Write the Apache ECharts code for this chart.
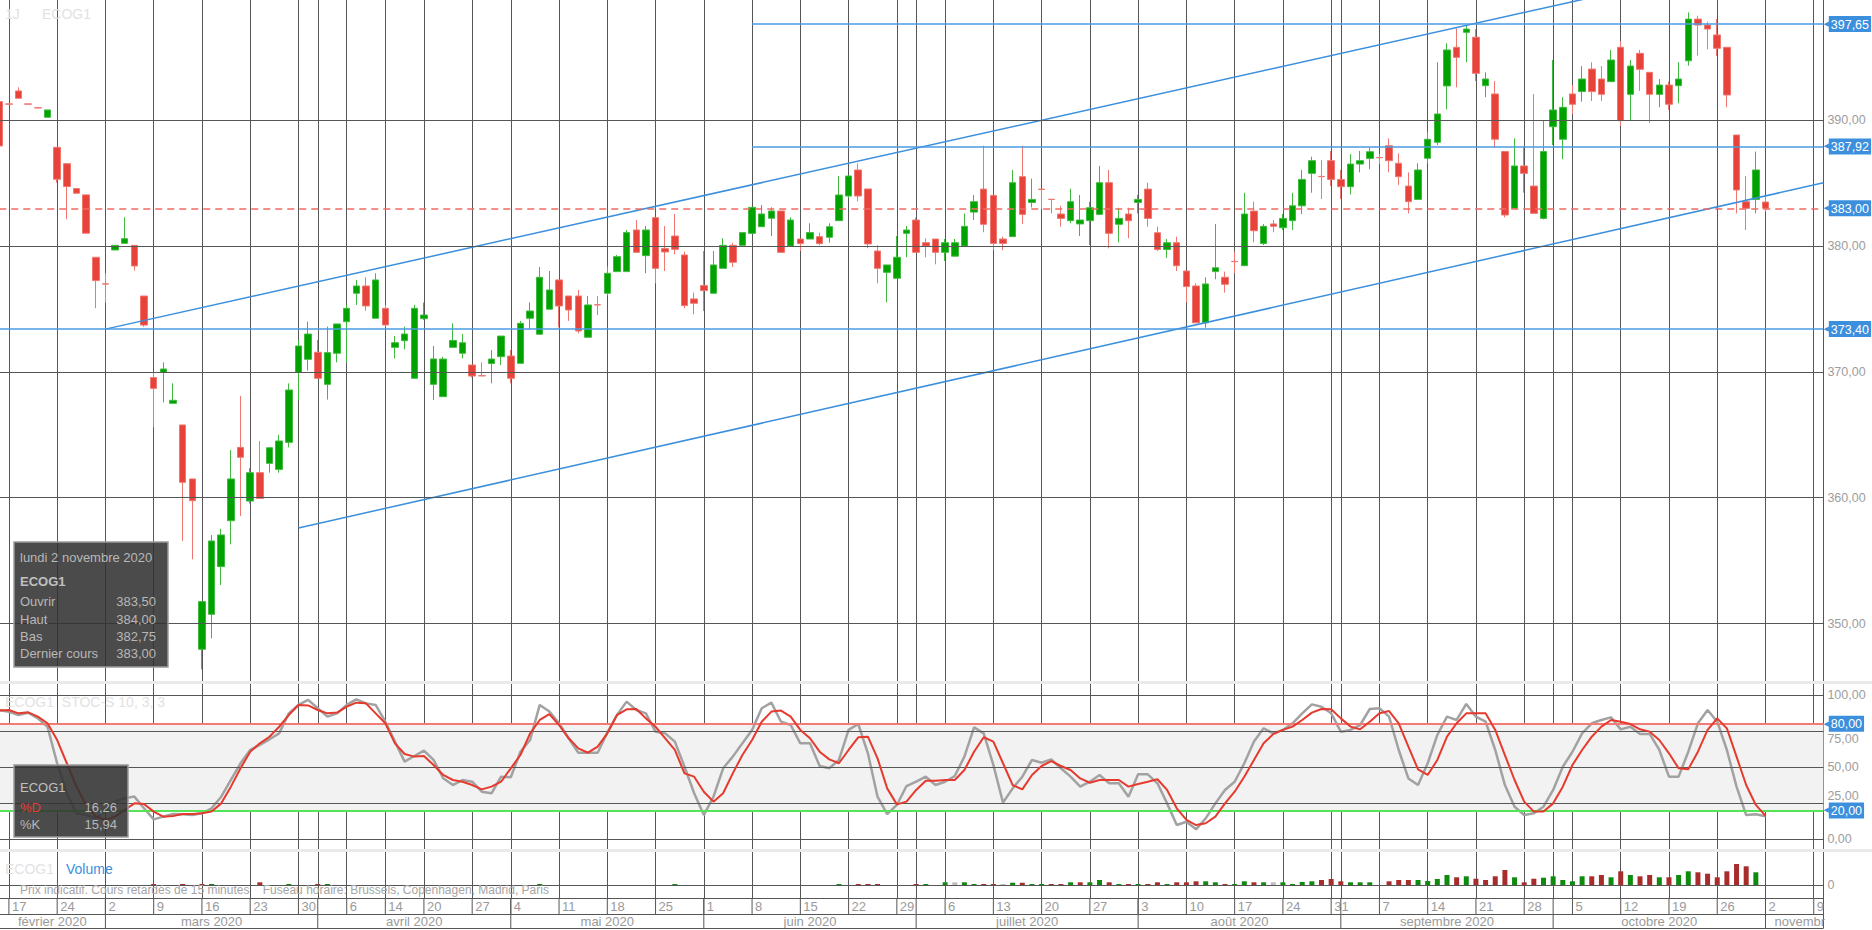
<!DOCTYPE html>
<html><head><meta charset="utf-8">
<script src="https://cdn.jsdelivr.net/npm/echarts@6/dist/echarts.min.js"></script>
<style>html,body{margin:0;padding:0;background:#fff}#c{width:1872px;height:930px}</style>
</head><body><div id="c"></div><script>
const dates = [
'02-14','02-17','02-18','02-19','02-20','02-21','02-24','02-25','02-26','02-27','02-28',
'03-02','03-03','03-04','03-05','03-06','03-09','03-10','03-11','03-12','03-13',
'03-16','03-17','03-18','03-19','03-20','03-23','03-24','03-25','03-26','03-27','03-30','03-31',
'04-01','04-02','04-03','04-06','04-07','04-08','04-09','04-14','04-15','04-16','04-17',
'04-20','04-21','04-22','04-23','04-24','04-27','04-28','04-29','04-30',
'05-04','05-05','05-06','05-07','05-08','05-11','05-12','05-13','05-14','05-15',
'05-18','05-19','05-20','05-21','05-22','05-25','05-26','05-27','05-28','05-29',
'06-01','06-02','06-03','06-04','06-05','06-08','06-09','06-10','06-11','06-12',
'06-15','06-16','06-17','06-18','06-19','06-22','06-23','06-24','06-25','06-26','06-29','06-30',
'07-01','07-02','07-03','07-06','07-07','07-08','07-09','07-10','07-13','07-14','07-15','07-16','07-17',
'07-20','07-21','07-22','07-23','07-24','07-27','07-28','07-29','07-30','07-31',
'08-03','08-04','08-05','08-06','08-07','08-10','08-11','08-12','08-13','08-14',
'08-17','08-18','08-19','08-20','08-21','08-24','08-25','08-26','08-27','08-28','08-31',
'09-01','09-02','09-03','09-04','09-07','09-08','09-09','09-10','09-11','09-14','09-15','09-16','09-17','09-18',
'09-21','09-22','09-23','09-24','09-25','09-28','09-29','09-30',
'10-01','10-02','10-05','10-06','10-07','10-08','10-09','10-12','10-13','10-14','10-15','10-16',
'10-19','10-20','10-21','10-22','10-23','10-26','10-27','10-28','10-29','10-30',
'11-02','11-03','11-04','11-05','11-06','11-09','11-10'];

const opens = [
391.48,391.30,392.33,391.30,391.00,390.24,387.85,386.55,384.57,384.07,
379.11,377.00,379.69,380.22,380.06,376.03,369.55,369.96,367.50,365.78,
361.49,347.95,350.73,354.52,358.17,364.00,359.73,361.99,362.73,362.25,
364.40,369.96,371.00,371.56,369.01,371.48,373.99,376.25,376.83,374.26,
375.05,371.95,372.48,369.49,374.23,369.01,368.03,371.95,371.48,370.55,
369.70,370.66,371.21,371.26,370.68,374.26,372.99,374.98,377.31,376.03,
376.03,372.75,375.34,376.25,377.97,377.97,381.28,379.24,382.26,379.80,
380.80,379.29,375.80,376.86,376.25,378.23,380.06,380.06,381.01,381.54,
382.21,382.79,380.00,380.56,380.56,380.75,380.70,382.02,383.98,386.05,
384.54,379.61,377.91,377.44,381.01,382.07,380.27,380.56,379.50,379.20,
380.00,382.70,384.53,384.03,380.56,380.75,385.52,383.47,384.53,383.72,
382.55,382.02,381.76,382.02,382.52,385.04,381.73,382.55,383.47,384.53,
381.06,379.73,380.27,378.02,376.83,373.90,377.97,377.52,378.78,378.44,
382.78,380.21,381.76,381.46,382.02,383.20,385.78,385.54,386.79,385.30,
384.72,386.52,386.97,387.04,387.98,386.58,384.77,383.71,386.98,388.25,
392.73,395.80,396.99,396.60,392.75,392.09,387.51,383.00,386.37,384.77,
382.20,389.49,388.49,392.09,392.28,394.07,393.28,393.07,395.80,392.06,
395.32,393.81,392.06,392.80,392.75,394.73,398.04,397.57,396.78,395.80,
388.83,383.53,383.71,383.50];
const highs = [
391.60,391.30,392.62,391.30,391.00,390.82,387.85,386.55,384.57,384.07,
379.11,377.84,380.06,382.29,380.06,376.03,370.02,370.76,369.09,365.78,
361.49,351.74,357.04,357.52,363.79,368.09,362.34,364.51,363.97,364.99,
369.09,372.54,374.00,372.54,373.60,373.81,375.32,377.31,377.52,377.84,
375.32,372.85,373.60,375.32,375.51,372.06,371.20,373.86,373.01,370.55,
370.76,371.74,372.85,371.74,374.05,375.53,378.34,378.02,377.31,376.03,
376.51,376.03,376.03,378.37,379.29,381.28,382.07,381.60,382.26,381.60,
382.55,379.56,376.30,379.61,379.61,380.62,380.27,381.07,383.08,383.27,
383.08,382.79,382.28,380.56,381.81,381.07,381.81,385.57,385.57,386.58,
384.54,380.06,378.50,380.80,381.60,382.26,380.62,380.56,380.56,380.56,
382.58,384.06,387.98,384.03,380.75,386.05,387.98,385.36,384.53,383.72,
383.20,384.56,384.06,383.53,386.37,386.05,383.05,383.05,384.06,385.04,
381.55,380.56,380.75,378.02,377.04,377.52,381.76,377.97,379.56,384.24,
383.53,381.76,382.07,382.55,384.24,386.05,387.10,386.84,387.56,386.05,
387.31,387.56,387.82,387.31,388.56,387.37,385.86,386.58,389.09,394.61,
396.12,397.31,397.57,397.25,393.81,393.12,387.51,388.56,387.90,392.09,
389.97,394.79,391.83,392.80,394.31,394.61,394.31,395.59,396.30,394.79,
395.59,393.81,393.28,393.07,394.61,398.57,398.31,397.84,398.04,395.80,
388.83,385.57,387.51,384.00];
const lows = [
387.90,391.28,391.75,391.28,390.98,390.24,385.04,382.13,384.20,381.02,
375.06,375.50,379.69,380.22,378.05,373.59,365.59,367.58,367.50,356.56,
355.10,346.36,348.82,353.06,356.29,358.55,359.54,359.94,361.99,361.99,
364.00,367.77,370.10,369.49,367.80,370.76,370.74,375.32,374.87,374.26,
373.60,371.07,371.80,369.49,374.13,367.77,368.03,371.95,371.07,369.56,
369.68,369.09,370.55,369.09,370.68,373.38,372.99,374.98,373.54,374.05,
373.06,372.75,374.52,376.06,377.97,377.97,379.50,377.84,377.04,378.02,
379.34,375.06,374.58,374.84,376.25,378.23,378.34,380.06,381.01,381.54,
380.80,379.50,380.00,379.61,380.56,380.08,380.27,382.02,383.80,383.56,
379.83,377.04,375.53,377.44,379.11,379.50,379.11,378.55,378.82,379.20,
380.00,382.07,381.10,379.68,379.68,380.75,381.76,383.07,382.95,382.60,
381.55,381.81,380.80,380.08,382.52,379.82,380.30,380.62,382.60,381.55,
379.60,379.07,378.02,375.50,373.90,373.50,377.36,376.30,377.84,378.44,
380.30,380.08,381.10,381.28,381.28,382.55,384.24,383.74,384.77,383.74,
384.10,385.86,386.10,386.52,385.86,384.86,382.60,383.71,386.58,388.03,
390.87,392.62,394.61,393.12,391.83,387.85,382.28,383.00,384.25,382.60,
382.12,388.03,386.90,390.50,391.48,391.53,391.53,393.07,389.55,390.00,
392.33,389.80,391.03,390.82,391.35,394.34,395.14,395.64,395.11,391.03,
382.60,381.28,382.60,382.75];
const closes = [
387.96,391.28,391.75,391.28,390.98,390.82,385.31,384.73,384.20,381.02,
377.26,376.98,380.06,380.59,378.42,373.72,368.69,370.23,367.74,361.22,
359.76,351.74,356.56,357.04,361.49,363.21,361.99,359.94,363.97,364.51,
368.56,372.06,373.01,369.49,371.53,373.81,375.05,376.83,375.24,377.31,
373.73,372.32,373.01,375.05,374.52,371.03,371.02,372.50,372.32,369.67,
369.68,371.02,372.85,369.49,373.86,374.84,377.52,376.51,375.24,374.92,
373.25,375.32,375.32,377.84,379.16,381.07,379.50,381.28,378.23,379.53,
379.74,375.27,375.45,376.46,378.50,380.06,378.71,381.07,383.08,382.55,
382.79,379.50,382.07,380.20,381.07,380.20,381.54,384.06,385.57,383.98,
380.17,378.23,378.50,379.11,381.28,379.50,380.00,379.50,380.27,380.27,
381.57,383.53,381.73,380.21,380.21,385.04,382.52,383.71,384.50,383.70,
382.20,383.53,382.07,383.05,385.04,381.01,382.20,382.02,383.71,382.20,
379.73,380.27,378.44,376.78,373.90,376.99,378.28,376.96,378.76,382.55,
381.22,381.57,381.57,382.20,383.20,385.30,386.79,385.52,385.30,384.72,
386.52,386.79,387.50,387.02,386.79,385.52,383.53,386.05,388.49,390.50,
395.59,395.00,397.25,393.73,393.28,388.49,382.47,386.37,385.78,382.60,
387.51,390.82,391.03,391.27,393.28,392.28,392.06,394.79,389.97,394.31,
394.05,392.06,392.80,391.27,393.28,398.04,397.57,397.25,395.72,392.01,
384.46,383.00,386.05,383.00];
const volumes = [
0,0,0,0,0,0,0,0,0,0,
0,0,0,0,0,0,100,0,0,100,
0,100,100,0,0,0,0,270,0,0,
100,0,0,100,100,0,0,0,0,0,
0,0,0,0,0,0,0,0,0,0,
0,0,0,0,0,0,100,0,0,0,
0,0,0,0,0,0,0,0,0,0,
100,0,0,0,0,0,0,0,0,0,
0,0,0,0,0,0,0,100,0,100,
100,100,0,0,0,100,100,0,270,270,
270,100,100,100,100,230,230,100,100,100,
100,270,270,270,500,270,100,100,100,100,
270,100,270,270,370,370,270,100,100,370,
270,270,270,270,100,300,370,500,600,370,
270,270,270,0,370,500,500,500,400,600,
1000,770,870,630,500,870,1500,770,270,630,
730,870,500,370,870,870,1000,770,1370,1000,
870,1000,770,770,1000,1370,1270,1130,770,1370,
2100,1870,1270,0];
const stochK = [
89.6,88.4,86.1,87.7,83.8,78.0,52.6,31.9,18.0,16.9,
14.5,20.3,26.1,28.4,29.6,21.5,13.8,15.7,17.5,17.3,
16.8,18.0,21.5,29.5,41.1,52.7,61.9,65.4,69.3,73.4,
87.3,93.1,96.6,90.8,85.0,87.3,93.1,97.0,94.2,93.1,
81.5,67.7,53.8,57.7,61.4,55.0,42.3,37.6,41.1,39.9,
33.0,31.9,43.4,43.0,60.7,68.8,93.1,88.5,80.4,70.0,
60.0,60.0,60.0,73.9,86.1,95.4,89.6,87.3,74.6,73.4,
67.7,50.3,31.9,16.8,29.5,49.2,57.3,66.5,75.8,90.8,
94.7,81.5,79.2,66.5,66.5,50.8,49.2,55.0,75.8,79.9,
59.6,29.5,17.5,23.8,36.9,39.9,43.4,37.6,39.9,43.9,
57.3,77.6,73.4,51.5,25.4,35.3,43.4,55.0,53.1,55.4,
49.2,43.4,36.5,39.9,44.6,38.8,38.8,29.5,45.0,45.0,
38.8,24.9,9.9,12.2,6.9,14.5,24.9,34.2,39.9,52.7,
67.7,76.9,73.4,75.8,80.4,87.3,93.5,91.9,87.3,74.6,
75.8,79.2,90.3,90.8,85.0,61.9,42.2,37.6,52.7,72.3,
85.0,82.7,93.8,85.0,81.5,61.9,37.6,22.6,16.8,18.0,
22.6,34.2,50.3,60.7,73.4,80.4,82.7,84.5,76.2,78.0,
73.0,73.0,61.9,43.4,43.4,60.7,80.4,89.6,81.5,61.9,
36.5,16.8,17.3,15.94];
const stochD = [
89.2,89.6,87.3,88.0,85.0,80.4,68.8,52.7,36.5,23.8,
15.7,13.4,15.7,20.3,24.9,24.5,19.2,15.7,16.1,17.5,
17.5,18.0,19.2,24.9,36.5,49.2,60.7,66.5,71.1,78.0,
86.1,93.1,92.8,89.6,87.3,87.8,91.9,94.7,94.2,87.3,
80.4,66.5,59.1,57.3,57.7,51.5,44.6,41.1,39.9,37.6,
34.6,36.5,39.9,49.2,58.4,73.4,82.7,86.8,79.2,70.0,
63.0,60.0,64.2,73.4,86.1,90.1,90.3,83.8,78.0,70.0,
61.9,45.7,43.4,33.0,26.1,31.9,45.7,58.4,68.8,81.5,
88.5,89.2,85.0,75.8,70.0,60.7,55.4,52.7,61.9,70.7,
71.1,56.1,35.3,24.2,26.1,34.2,40.6,40.6,41.1,41.1,
48.0,60.7,70.7,67.7,52.7,37.6,34.6,44.6,50.8,54.2,
50.8,48.0,42.2,39.2,41.1,41.1,41.1,36.5,38.3,39.9,
41.6,34.2,21.5,13.4,9.9,11.1,15.7,24.9,33.0,43.4,
54.9,66.5,72.9,75.8,78.1,82.7,87.8,90.3,90.1,83.8,
78.1,76.2,81.5,87.3,88.9,80.4,64.2,48.5,44.6,55.0,
71.1,80.4,87.3,87.3,87.3,75.8,58.4,41.1,26.1,19.2,
19.2,24.9,36.5,51.5,61.9,71.1,78.1,82.7,81.5,79.9,
76.2,74.6,68.8,59.6,49.2,48.5,60.7,75.8,83.8,76.9,
57.3,37.6,23.8,16.26];

const priceTicks = [350, 360, 370, 380, 390];
const stochTicks = [0, 25, 50, 75, 100];
const stochLevels = [80, 20];
const volumeTicks = [0];
const lastPrice = 383.00;
const levelLines = [
  {from: '06-08', to: '11-10', value: 397.65},
  {from: '06-08', to: '11-10', value: 387.92},
  {from: '02-14', to: '11-10', value: 373.40}
];
const channelUpper = [['03-02', 373.40], ['10-23', 401.82]];
const channelLower = [['03-30', 357.59], ['11-10', 385.03]];
const weekTicks = ['02-17','02-24','03-02','03-09','03-16','03-23','03-30','04-06','04-14','04-20','04-27',
 '05-04','05-11','05-18','05-25','06-01','06-08','06-15','06-22','06-29','07-06','07-13','07-20','07-27',
 '08-03','08-10','08-17','08-24','08-31','09-07','09-14','09-21','09-28','10-05','10-12','10-19','10-26','11-02','11-09'];
const weekLabels = ['17','24','2','9','16','23','30','6','14','20','27','4','11','18','25','1','8','15','22','29',
 '6','13','20','27','3','10','17','24','31','7','14','21','28','5','12','19','26','2','9'];
const monthStarts = ['03-02','04-01','05-04','06-01','07-01','08-03','09-01','10-01','11-02'];
const monthLabels = ['février 2020','mars 2020','avril 2020','mai 2020','juin 2020','juillet 2020','août 2020','septembre 2020','octobre 2020','novembre 2020'];

const FONT = '"Liberation Sans", Arial, Helvetica, sans-serif';
const GRID = '#565656';
const BLUE = '#3b8fdc';
const fmt = v => Number(v).toFixed(2).replace('.', ',');
const tickSet = new Set([...weekTicks, ...monthStarts]);
const L = -0.75, R = 48.6;

const grayLabel = {show: true, position: 'end', distance: 4, color: '#9d9d9d', fontSize: 12.5, fontFamily: FONT};
const blueRich = {
  a: {color: BLUE, fontSize: 7, fontFamily: '"DejaVu Sans", sans-serif', padding: [0, 0, 0, 0]},
  b: {color: '#fff', backgroundColor: BLUE, padding: [2, 2, 1, 2], fontSize: 12.5, fontFamily: FONT}
};
const blueLabel = v => ({show: true, position: 'end', distance: 0, formatter: '{a|◀}{b|' + fmt(v) + '}', rich: blueRich});

function host(xi, yi, z, markLine, markArea) {
  const s = {type: 'line', xAxisIndex: xi, yAxisIndex: yi, data: [], z: z, silent: true, symbol: 'none'};
  if (markLine) s.markLine = Object.assign({silent: true, symbol: ['none', 'none'], animation: false}, markLine);
  if (markArea) s.markArea = Object.assign({silent: true, animation: false}, markArea);
  return s;
}
function xCat(gi) {
  return {type: 'category', gridIndex: gi, data: dates, boundaryGap: false,
    axisLine: {show: false}, axisTick: {show: false}, axisLabel: {show: false},
    splitLine: {show: true, interval: (idx, val) => tickSet.has(val), lineStyle: {color: GRID, width: 1}}};
}
function yVal(gi, min, max) {
  return {type: 'value', gridIndex: gi, min: min, max: max, position: 'right',
    axisLine: {show: true, onZero: false, lineStyle: {color: GRID, width: 1}},
    axisTick: {show: false}, axisLabel: {show: false}, splitLine: {show: false}};
}
const txtStyle = (text, fill, size, align, bold) => ({
  text: text, fill: fill, font: (bold ? 'bold ' : '') + size + 'px ' + FONT,
  textAlign: align || 'left', align: align || 'left', textVerticalAlign: 'middle', verticalAlign: 'middle'
});
const gtext = (x, y, text, fill, size, align, bold) => ({type: 'text', x: x, y: y, z: 40, silent: true, style: txtStyle(text, fill, size, align, bold)});

// gray stoch tick labels that sit under the blue level boxes are nudged clear of them
const stochLabelNudge = v => (v === 75 ? [0, 8] : (v === 25 ? [0, -7] : [0, 0]));

const chart = echarts.init(document.getElementById('c'), null, {renderer: 'svg'});
const n = closes.length - 1;

const option = {
  animation: false,
  backgroundColor: '#ffffff',
  grid: [
    {left: L, right: R, top: 0, height: 681, outerBoundsMode: 'none'},
    {left: L, right: R, top: 684, height: 165, outerBoundsMode: 'none'},
    {left: L, right: R, top: 852, height: 46, outerBoundsMode: 'none'},
    {left: L, right: R, top: 898, height: 30, outerBoundsMode: 'none'}
  ],
  xAxis: [xCat(0), xCat(1), xCat(2),
    {type: 'value', gridIndex: 3, min: 0, max: dates.length - 1, show: false}],
  yAxis: [yVal(0, 345.43, 399.56), yVal(1, -6.72, 107.62), yVal(2, -1300, 3300), yVal(3, 0, 30)],
  series: [
    host(0, 0, 1, {lineStyle: {color: GRID, width: 1, type: 'solid'}, label: grayLabel,
      data: priceTicks.map(v => ({yAxis: v, label: {formatter: fmt(v)}}))}),
    {type: 'candlestick', xAxisIndex: 0, yAxisIndex: 0, z: 2, barWidth: 7, silent: true, clip: true,
      data: opens.map((o, i) => [o, closes[i], lows[i], highs[i]]),
      itemStyle: {color: '#00a200', color0: '#e8433a', borderColor: '#3fba3f', borderColor0: '#ef7770', borderWidth: 1}},
    {type: 'line', xAxisIndex: 0, yAxisIndex: 0, z: 3, silent: true, clip: true, symbol: 'none',
      data: channelUpper, lineStyle: {color: BLUE, width: 1.5}},
    {type: 'line', xAxisIndex: 0, yAxisIndex: 0, z: 3, silent: true, clip: true, symbol: 'none',
      data: channelLower, lineStyle: {color: BLUE, width: 1.5}},
    host(0, 0, 4, {label: blueLabel(lastPrice), data: [
      ...levelLines.map(l => [
        {coord: [l.from, l.value], lineStyle: {color: '#4a9be2', width: 1.5, type: 'solid'}, label: blueLabel(l.value)},
        {coord: [l.to, l.value], lineStyle: {color: '#4a9be2', width: 1.5, type: 'solid'}, label: blueLabel(l.value)}
      ]),
      {yAxis: lastPrice, lineStyle: {color: '#f26a62', width: 1.5, type: [7, 5]}, label: blueLabel(lastPrice)}
    ]}),

    host(1, 1, -1, null, {itemStyle: {color: '#f2f2f2'}, data: [[{yAxis: stochLevels[1]}, {yAxis: stochLevels[0]}]]}),
    host(1, 1, 1, {lineStyle: {color: GRID, width: 1, type: 'solid'}, label: grayLabel,
      data: stochTicks.map(v => ({yAxis: v, label: {formatter: fmt(v), offset: stochLabelNudge(v)}}))}),
    host(1, 1, 3, {label: blueLabel(80), data: stochLevels.map((v, k) => ({yAxis: v,
      lineStyle: {color: k === 0 ? '#f27b76' : '#55e455', width: 2, type: 'solid'},
      label: blueLabel(v)}))}),
    {type: 'line', xAxisIndex: 1, yAxisIndex: 1, z: 4, silent: true, symbol: 'none', data: stochK,
      lineStyle: {color: '#a2a2a2', width: 2.5}},
    {type: 'line', xAxisIndex: 1, yAxisIndex: 1, z: 5, silent: true, symbol: 'none', data: stochD,
      lineStyle: {color: '#e63a2e', width: 2}},

    host(2, 2, 1, {lineStyle: {color: GRID, width: 1, type: 'solid'}, label: grayLabel,
      data: volumeTicks.map(v => ({yAxis: v, label: {formatter: String(v)}}))}),
    {type: 'bar', xAxisIndex: 2, yAxisIndex: 2, z: 2, silent: true, barWidth: 5, data: volumes,
      itemStyle: {color: p => {
        const i = p.dataIndex;
        const d = i === 0 ? closes[0] - opens[0] : closes[i] - closes[i - 1];
        return d > 0 ? '#0e8a0e' : (d < 0 ? '#a82c2c' : '#bdbdbd');
      }}},

    host(3, 3, 1, {lineStyle: {color: GRID, width: 1, type: 'solid'}, label: {show: false},
      data: [{yAxis: 0}, {yAxis: 14}, {yAxis: 30}]}),
    {type: 'custom', xAxisIndex: 3, yAxisIndex: 3, z: 2, silent: true, clip: true,
      data: weekTicks.map(d => [dates.indexOf(d), 0]),
      renderItem: (params, api) => {
        const i = api.value(0);
        const a = api.coord([i, 30]), b = api.coord([i, 14]), m = api.coord([i, 22]);
        return {type: 'group', children: [
          {type: 'line', shape: {x1: a[0], y1: a[1], x2: b[0], y2: b[1]}, style: {stroke: GRID, lineWidth: 1}},
          {type: 'text', x: a[0] + 3, y: m[1], style: txtStyle(weekLabels[params.dataIndex], '#9a9a9a', 13, 'left')}
        ]};
      }},
    {type: 'custom', xAxisIndex: 3, yAxisIndex: 3, z: 2, silent: true, clip: true,
      data: monthLabels.map((m, k) => [k === 0 ? 0 : dates.indexOf(monthStarts[k - 1]), 0,
        k < monthStarts.length ? dates.indexOf(monthStarts[k]) : dates.length - 1]),
      renderItem: (params, api) => {
        const k = params.dataIndex;
        const s = api.value(0), e = api.value(2);
        const last = k === monthLabels.length - 1;
        const children = [];
        if (k > 0) {
          const a = api.coord([s, 30]), b = api.coord([s, 0]);
          children.push({type: 'line', shape: {x1: a[0], y1: a[1], x2: b[0], y2: b[1]}, style: {stroke: GRID, lineWidth: 1}});
        }
        const c = last ? api.coord([s, 7]) : api.coord([(s + e) / 2, 7]);
        children.push({type: 'text', x: last ? c[0] + 9 : c[0], y: c[1],
          style: txtStyle(monthLabels[k], '#9a9a9a', 13, last ? 'left' : 'center')});
        return {type: 'group', children: children};
      }}
  ],
  graphic: [
    {type: 'rect', z: 30, silent: true, shape: {x: 0, y: 681, width: 1872, height: 3}, style: {fill: '#e9e9e9'}},
    {type: 'rect', z: 30, silent: true, shape: {x: 0, y: 849, width: 1872, height: 3}, style: {fill: '#e9e9e9'}},
    gtext(5, 14, '1J', '#e2e2e2', 14),
    gtext(42, 14, 'ECOG1', '#e2e2e2', 14),
    gtext(5, 702, 'ECOG1  STOC-S 10, 3, 3', '#e2e2e2', 14),
    gtext(5, 869, 'ECOG1', '#e2e2e2', 14),
    gtext(66, 869, 'Volume', BLUE, 14),
    gtext(20, 890, 'Prix indicatif. Cours retardés de 15 minutes    Fuseau horaire: Brussels, Copenhagen, Madrid, Paris', '#a5a5a5', 12),
    {type: 'rect', z: 35, silent: true, shape: {x: 14, y: 542, width: 154, height: 125},
      style: {fill: 'rgba(50,50,50,0.88)', stroke: '#9a9a9a', lineWidth: 1.5}},
    gtext(20, 557, 'lundi 2 novembre 2020', '#b8b8b8', 13),
    gtext(20, 581, 'ECOG1', '#c0c0c0', 13, 'left', true),
    gtext(20, 601, 'Ouvrir', '#b8b8b8', 13), gtext(156, 601, fmt(opens[n]), '#b8b8b8', 13, 'right'),
    gtext(20, 619, 'Haut', '#b8b8b8', 13), gtext(156, 619, fmt(highs[n]), '#b8b8b8', 13, 'right'),
    gtext(20, 636, 'Bas', '#b8b8b8', 13), gtext(156, 636, fmt(lows[n]), '#b8b8b8', 13, 'right'),
    gtext(20, 653, 'Dernier cours', '#b8b8b8', 13), gtext(156, 653, fmt(closes[n]), '#b8b8b8', 13, 'right'),
    {type: 'rect', z: 35, silent: true, shape: {x: 14, y: 765, width: 114, height: 72},
      style: {fill: 'rgba(50,50,50,0.88)', stroke: '#9a9a9a', lineWidth: 1.5}},
    gtext(20, 787, 'ECOG1', '#c0c0c0', 13),
    gtext(20, 807, '%D', '#e63a2e', 13), gtext(117, 807, fmt(stochD[n]), '#b8b8b8', 13, 'right'),
    gtext(20, 824, '%K', '#b8b8b8', 13), gtext(117, 824, fmt(stochK[n]), '#b8b8b8', 13, 'right')
  ]
};
chart.setOption(option);
</script></body></html>
